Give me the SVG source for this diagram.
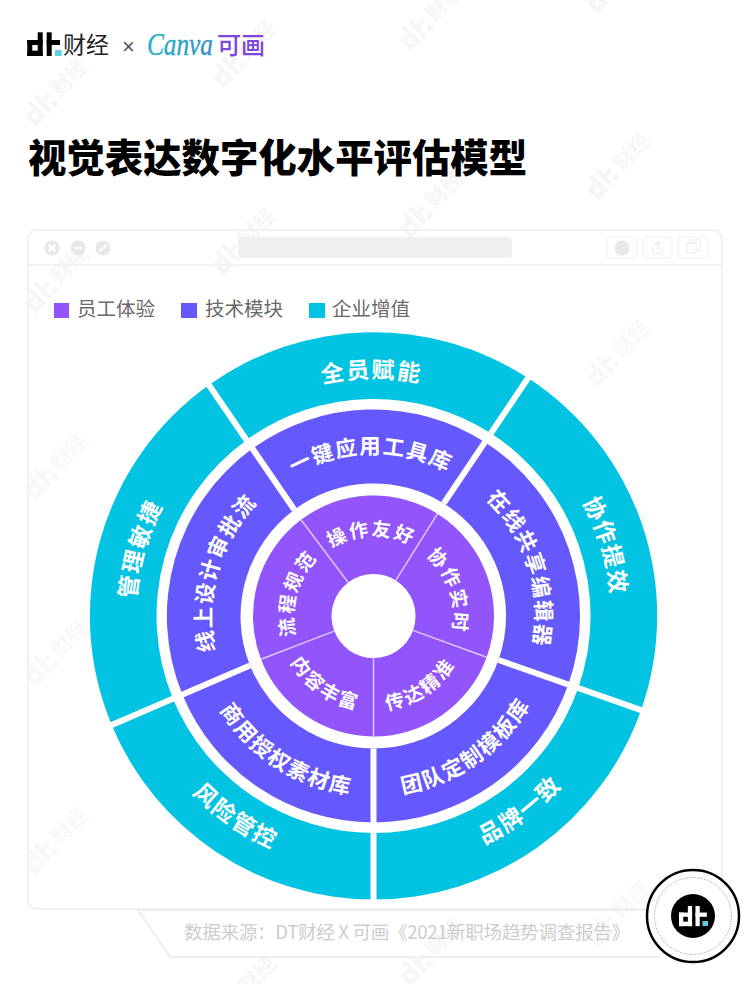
<svg xmlns="http://www.w3.org/2000/svg" width="750" height="984" viewBox="0 0 750 984">
<style>
text{font-family:"Noto Sans CJK SC","Noto Sans",sans-serif}
.cy{fill:#02c3e1}.bl{fill:#6558fd}.pu{fill:#9254fb}
.lb{fill:#fff;font-weight:700;text-anchor:middle}
.l1{font-size:23px;letter-spacing:1.800px}
.l2{font-size:21.500px;letter-spacing:1.500px}
.l3{font-size:19px;letter-spacing:2.300px}
.lg{font-size:19.500px;fill:#6a6a6a}
.ww{fill:none;stroke:#fff;stroke-width:6}
.wp{fill:none;stroke:#dcc8ff;stroke-width:1.500}
.wt{font-size:21px;font-weight:700}
.win{fill:none;stroke:#f1f1f1;stroke-width:2}
.btn{fill:none;stroke:#f4f4f4;stroke-width:1.500}
</style>
<defs>
<linearGradient id="cg" x1="0" y1="0" x2="1" y2="0"><stop offset="0" stop-color="#27b5c9"/><stop offset="1" stop-color="#3f86c6"/></linearGradient>
<g id="dt">
<rect x="0" y="7.700" width="5" height="16"/><rect x="0" y="7.700" width="15.400" height="5"/><rect x="0" y="18.400" width="15.400" height="5.300"/><rect x="10.400" y="0" width="5" height="23.700"/>
<rect x="19.400" y="0" width="5" height="23.700"/><rect x="19.400" y="7.700" width="13.300" height="5"/>
</g>
<g id="wm">
<g transform="translate(-50,-11) scale(.95)"><use href="#dt"/><rect x="27.700" y="17.700" width="6.700" height="6"/></g>
<text class="wt" x="-13" y="8">财经</text>
</g>
<path id="u238" d="M135.500 616A238 238 0 0 1 611.500 616"/>
<path id="d254" d="M119.500 616A254 254 0 0 0 627.500 616"/>
<path id="u162" d="M211.500 616A162 162 0 0 1 535.500 616"/>
<path id="d180" d="M193.500 616A180 180 0 0 0 553.500 616"/>
<path id="u80" d="M293.500 616A80 80 0 0 1 453.500 616"/>
<path id="d95" d="M278.500 616A95 95 0 0 0 468.500 616"/>
</defs>

<g id="watermarks" fill="#f6f6f6">
<use href="#wm" transform="translate(63,83) rotate(-45)"/><use href="#wm" transform="translate(63,270) rotate(-45)"/>
<use href="#wm" transform="translate(251,45) rotate(-45)"/><use href="#wm" transform="translate(251,232) rotate(-45)"/><use href="#wm" transform="translate(251,980) rotate(-45)"/>
<use href="#wm" transform="translate(438,8) rotate(-45)"/><use href="#wm" transform="translate(438,195) rotate(-45)"/><use href="#wm" transform="translate(438,943) rotate(-45)"/>
<use href="#wm" transform="translate(625,-30) rotate(-45)"/><use href="#wm" transform="translate(625,157) rotate(-45)"/>
<g fill="#f8f8f8"><use href="#wm" transform="translate(63,457) rotate(-45)"/><use href="#wm" transform="translate(63,644) rotate(-45)"/><use href="#wm" transform="translate(63,831) rotate(-45)"/><use href="#wm" transform="translate(625,344) rotate(-45)"/><use href="#wm" transform="translate(625,531) rotate(-45)"/><use href="#wm" transform="translate(625,718) rotate(-45)"/><use href="#wm" transform="translate(625,905) rotate(-45)"/></g>
</g>

<g id="brand">
<use href="#dt" fill="#000" transform="translate(27.300,32.300)"/>
<rect x="55" y="50" width="6.700" height="6" fill="#5fd0e0"/>
<text x="63" y="53" font-size="23" fill="#222">财经</text>
<text x="122" y="54" font-size="22" fill="#555" style="font-family:'Liberation Sans',sans-serif">×</text>
<text transform="translate(147,55) scale(.815,1)" font-size="31" font-style="italic" fill="url(#cg)" stroke="#2aa6c8" stroke-width=".4" style="font-family:'Liberation Serif',serif">Canva</text>
<text x="217" y="54" font-size="24" font-weight="500" fill="#7d46dc">可画</text>
</g>

<text id="title" x="28" y="172" font-size="38.400" font-weight="900" fill="#000">视觉表达数字化水平评估模型</text>

<g id="window">
<rect class="win" x="28" y="230" width="694" height="679" rx="9"/>
<line class="win" x1="28" y1="265" x2="722" y2="265"/>
<circle cx="52" cy="248" r="7.500" fill="#e8e8e8"/><circle cx="78" cy="248" r="7.500" fill="#e8e8e8"/><circle cx="103" cy="248" r="7.500" fill="#e8e8e8"/>
<path d="M48.500 244.500l7 7m0-7l-7 7M74 248h8M99.500 251.500l7-7" stroke="#fff" stroke-width="2" fill="none"/>
<rect x="238" y="237" width="274" height="21" rx="3" fill="#efefef"/>
<rect class="btn" x="607" y="237" width="30" height="21" rx="3"/><rect class="btn" x="643" y="237" width="29" height="21" rx="3"/><rect class="btn" x="678" y="237" width="30" height="21" rx="3"/>
<circle cx="622" cy="248" r="7.500" fill="#e8e8e8"/>
<path d="M653 247v6.500h9V247M657.500 250v-8M654.500 245l3-3.500l3 3.500" fill="none" stroke="#efefef" stroke-width="1.500"/>
<path d="M687 243h9v10h-9zM690 243v-3h10v10h-4" fill="none" stroke="#efefef" stroke-width="1.500"/>
</g>

<g id="legend">
<rect class="pu" x="54" y="303" width="15" height="15"/><text class="lg" x="77" y="316">员工体验</text>
<rect class="bl" x="181" y="303" width="16" height="15"/><text class="lg" x="205" y="316">技术模块</text>
<rect class="cy" x="309" y="303" width="16" height="15"/><text class="lg" x="332" y="316">企业增值</text>
</g>

<g id="value-quan"><path class="cy" d="M208.900 385A283.500 283.500 0 0 1 528 378L490.900 433.300A217 217 0 0 0 247.400 439.400Z"/><text class="lb l1" transform="rotate(-.5 373.500 616)"><textPath href="#u238" startOffset="50%">全员赋能</textPath></text></g>
<g id="value-xiezuo"><path class="cy" d="M528 378A283.500 283.500 0 0 1 641 710.200L578.200 688.100A217 217 0 0 0 490.900 433.300Z"/><text class="lb l1" transform="rotate(73.200 373.500 616)"><textPath href="#u238" startOffset="50%">协作提效</textPath></text></g>
<g id="value-pinpai"><path class="cy" d="M641 710.200A283.500 283.500 0 0 1 373.500 899.500V833A217 217 0 0 0 578.200 688.100Z"/><text class="lb l1" transform="rotate(-37 373.500 616)"><textPath href="#d254" startOffset="50%">品牌一致</textPath></text></g>
<g id="value-fengxian"><path class="cy" d="M373.500 899.500A283.500 283.500 0 0 1 111.700 725L172.900 698.700A217 217 0 0 0 373.500 833Z"/><text class="lb l1" transform="rotate(34.500 373.500 616)"><textPath href="#d254" startOffset="50%">风险管控</textPath></text></g>
<g id="value-guanli"><path class="cy" d="M111.700 725A283.500 283.500 0 0 1 208.900 385L247.400 439.400A217 217 0 0 0 172.900 698.700Z"/><text class="lb l1" transform="rotate(-74 373.500 616)"><textPath href="#u238" startOffset="50%">管理敏捷</textPath></text></g>

<g id="tech-yijian"><path class="bl" d="M252.400 448.600A206.500 206.500 0 0 1 484.700 442L443.700 503.400A132.500 132.500 0 0 0 294.300 509.800Z"/><text class="lb l2" transform="rotate(-1 373.500 616)"><textPath href="#u162" startOffset="50%">一键应用工具库</textPath></text></g>
<g id="tech-zaixian"><path class="bl" d="M484.700 442A206.500 206.500 0 0 1 568.300 684.600L498.500 660A132.500 132.500 0 0 0 443.700 503.400Z"/><text class="lb l2" transform="rotate(72.200 373.500 616)"><textPath href="#u162" startOffset="50%">在线共享编辑器</textPath></text></g>
<g id="tech-tuandui"><path class="bl" d="M568.300 684.600A206.500 206.500 0 0 1 373.500 822.500V748.500A132.500 132.500 0 0 0 498.500 660Z"/><text class="lb l2" transform="rotate(-35 373.500 616)"><textPath href="#d180" startOffset="50%">团队定制模板库</textPath></text></g>
<g id="tech-shangyong"><path class="bl" d="M373.500 822.500A206.500 206.500 0 0 1 182.400 694.500L250 665.500A132.500 132.500 0 0 0 373.500 748.500Z"/><text class="lb l2" transform="rotate(33 373.500 616)"><textPath href="#d180" startOffset="50%">商用授权素材库</textPath></text></g>
<g id="tech-xianshang"><path class="bl" d="M182.400 694.500A206.500 206.500 0 0 1 252.400 448.600L294.300 509.800A132.500 132.500 0 0 0 250 665.500Z"/><text class="lb l2" transform="rotate(-74 373.500 616)"><textPath href="#u162" startOffset="50%">线上设计审批流</textPath></text></g>

<g id="staff-caozuo"><path class="pu" d="M301 519.800A120.500 120.500 0 0 1 437.400 513.800L395.800 580.400A42 42 0 0 0 348.200 582.500Z"/><text class="lb l3" transform="rotate(-1.500 373.500 616)"><textPath href="#u80" startOffset="50%">操作友好</textPath></text></g>
<g id="staff-xiezuo"><path class="pu" d="M437.400 513.800A120.500 120.500 0 0 1 486.700 657.200L413 630.400A42 42 0 0 0 395.800 580.400Z"/><text class="lb l3" transform="rotate(71.600 373.500 616)"><textPath href="#u80" startOffset="50%">协作实时</textPath></text></g>
<g id="staff-chuanda"><path class="pu" d="M486.700 657.200A120.500 120.500 0 0 1 373.500 736.500V658A42 42 0 0 0 413 630.400Z"/><text class="lb l3" transform="rotate(-34 373.500 616)"><textPath href="#d95" startOffset="50%">传达精准</textPath></text></g>
<g id="staff-neirong"><path class="pu" d="M373.500 736.500A120.500 120.500 0 0 1 261 659.200L334.300 631.100A42 42 0 0 0 373.500 658Z"/><text class="lb l3" transform="rotate(35.300 373.500 616)"><textPath href="#d95" startOffset="50%">内容丰富</textPath></text></g>
<g id="staff-liucheng"><path class="pu" d="M261 659.200A120.500 120.500 0 0 1 301 519.800L348.200 582.500A42 42 0 0 0 334.300 631.100Z"/><text class="lb l3" transform="rotate(-73.800 373.500 616)"><textPath href="#u80" startOffset="50%">流程规范</textPath></text></g>

<g id="connectors">
<line class="ww" x1="294.300" y1="509.800" x2="207.200" y2="382.500"/>
<line class="ww" x1="443.700" y1="503.400" x2="529.700" y2="375.500"/>
<line class="ww" x1="498.500" y1="660" x2="644" y2="711.200"/>
<line class="ww" x1="373.500" y1="748.500" x2="373.500" y2="904"/>
<line class="ww" x1="250" y1="665.500" x2="108.800" y2="726.200"/>
<line class="wp" x1="348.200" y1="582.500" x2="301" y2="519.800"/>
<line class="wp" x1="395.800" y1="580.400" x2="437.400" y2="513.800"/>
<line class="wp" x1="413" y1="630.400" x2="486.700" y2="657.200"/>
<line class="wp" x1="373.500" y1="658" x2="373.500" y2="736.500"/>
<line class="wp" x1="334.300" y1="631.100" x2="261" y2="659.200"/>
</g>

<g id="source">
<path d="M138 910H690M138 910L170 957H660" fill="none" stroke="#eeeeee" stroke-width="2"/>
<text x="184" y="939" font-size="18.600" fill="#cdcdcd" textLength="446" lengthAdjust="spacing">数据来源：DT财经 X 可画《2021新职场趋势调查报告》</text>
</g>
<g id="badge">
<circle cx="693" cy="916" r="46" fill="#fff" stroke="#000" stroke-width="2.500"/>
<circle cx="693" cy="916" r="38.500" fill="none" stroke="#888" stroke-width="1" stroke-dasharray="1 1.500"/>
<circle cx="693" cy="916" r="22" fill="#000"/>
<use href="#dt" fill="#fff" transform="translate(679,906) scale(.85)"/>
<rect x="702.500" y="921" width="5.500" height="5" fill="#5fd0e0"/>
</g>
</svg>
